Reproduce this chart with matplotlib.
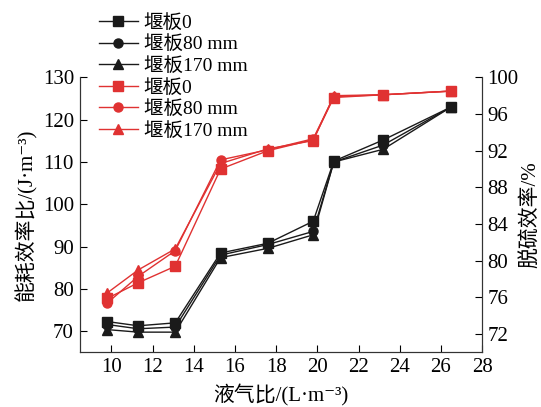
import matplotlib
matplotlib.use('Agg')
import matplotlib.pyplot as plt

plt.rcParams['font.family'] = ['Liberation Serif', 'Noto Sans CJK SC', 'DejaVu Serif']
plt.rcParams['font.size'] = 14

# Data
lg_ratio = [9.8, 11.3, 13.1, 15.3, 17.6, 19.8, 20.8, 23.2, 26.5]

# energy efficiency ratio (left axis)
energy_0 = [72.3, 71.3, 72.0, 88.5, 90.8, 96.0, 110.2, 115.2, 123.0]
energy_80 = [71.6, 70.6, 71.0, 88.0, 90.5, 93.6, 110.0, 114.0, 123.0]
energy_170 = [70.4, 69.8, 69.8, 87.4, 89.6, 92.8, 110.0, 113.0, 123.0]

# desulfurization efficiency (right axis)
desulf_0 = [75.9, 77.6, 79.4, 90.0, 92.0, 93.2, 97.8, 98.1, 98.5]
desulf_80 = [75.4, 78.3, 81.1, 91.0, 92.1, 93.3, 97.9, 98.1, 98.5]
desulf_170 = [76.5, 79.0, 81.3, 90.6, 92.2, 93.1, 98.0, 98.1, 98.5]

labels = ['堰板0', '堰板80 mm', '堰板170 mm']

black = '#1a1a1a'
red = '#e03232'

fig = plt.figure(figsize=(5.41, 4.07), dpi=100)
ax = fig.add_axes([0.147, 0.134, 0.744, 0.676])
ax2 = ax.twinx()

lw = 1.0
ms = 6.5
h1 = ax.plot(lg_ratio, energy_170, marker='^', color=black, lw=lw, ms=ms, label=labels[2], zorder=3)
h2 = ax.plot(lg_ratio, energy_80, marker='o', color=black, lw=lw, ms=ms, label=labels[1], zorder=4)
h3 = ax.plot(lg_ratio, energy_0, marker='s', color=black, lw=lw, ms=ms, label=labels[0], zorder=5)
r1 = ax2.plot(lg_ratio, desulf_0, marker='s', color=red, lw=lw, ms=ms, label=labels[0], zorder=5)
r2 = ax2.plot(lg_ratio, desulf_80, marker='o', color=red, lw=lw, ms=ms, label=labels[1], zorder=4)
r3 = ax2.plot(lg_ratio, desulf_170, marker='^', color=red, lw=lw, ms=ms, label=labels[2], zorder=3)

ax.set_xlim(8.45, 28)
ax.set_ylim(65, 130)
ax2.set_ylim(70, 100)
ax.set_xticks([10, 12, 14, 16, 18, 20, 22, 24, 26, 28])
ax.set_yticks([70, 80, 90, 100, 110, 120, 130])
ax2.set_yticks([72, 76, 80, 84, 88, 92, 96, 100])

for a in (ax, ax2):
    a.spines['top'].set_visible(False)
    a.tick_params(direction='in', length=5, width=0.8, labelsize=15, pad=4)
    for s in a.spines.values():
        s.set_linewidth(0.8)
        s.set_color('#333333')

ax.set_xlabel('液气比/(L·m⁻³)', fontsize=15, labelpad=5)
ax.set_ylabel('能耗效率比/(J·m⁻³)', fontsize=15, labelpad=4)
ax2.set_ylabel('脱硫效率/%', fontsize=15, labelpad=2)

handles = [h3[0], h2[0], h1[0], r1[0], r2[0], r3[0]]
fig.legend(handles, [h.get_label() for h in handles], loc='upper left',
           bbox_to_anchor=(0.165, 0.99), frameon=False, fontsize=14,
           handlelength=2.0, handletextpad=0.3, labelspacing=0.19, borderpad=0)

plt.savefig('out.png', dpi=100)
